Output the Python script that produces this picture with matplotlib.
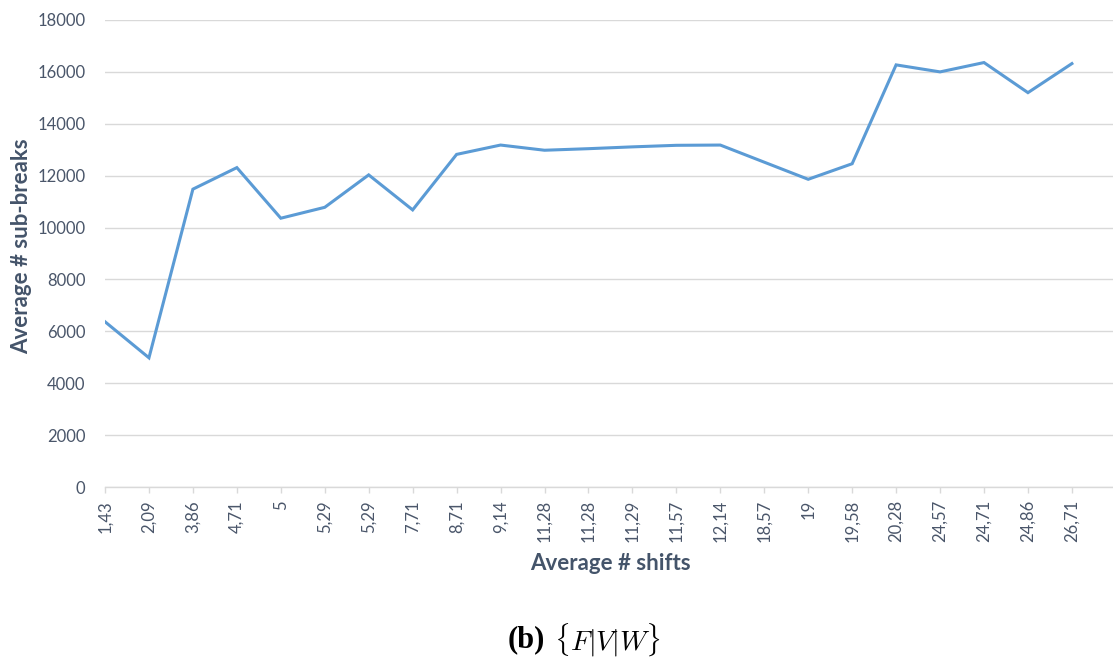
import matplotlib
matplotlib.use("Agg")
import matplotlib.pyplot as plt

categories = ["1,43", "2,09", "3,86", "4,71", "5", "5,29", "5,29", "7,71", "8,71",
              "9,14", "11,28", "11,28", "11,29", "11,57", "12,14", "18,57", "19",
              "19,58", "20,28", "24,57", "24,71", "24,86", "26,71"]
values = [6370, 4980, 11480, 12310, 10360, 10780, 12030, 10680, 12820,
          13180, 12980, 13040, 13110, 13170, 13180, 12520, 11860,
          12460, 16270, 16000, 16360, 15200, 16320]
yticks = [0, 2000, 4000, 6000, 8000, 10000, 12000, 14000, 16000, 18000]

tick_color = "#4a566a"
title_color = "#44546A"
grid_color = "#d9d9d9"
line_color = "#5B9BD5"

plt.rcParams['font.family'] = ['Lato', 'DejaVu Sans']
plt.rcParams['mathtext.fontset'] = 'cm'

fig = plt.figure(figsize=(11.13, 6.57), dpi=100)
ax = fig.add_axes([105/1113, 170/657, 1008/1113, 467/657])

x = list(range(len(categories)))
ax.plot(x, values, color=line_color, linewidth=2.2, solid_joinstyle='miter')

ax.set_xlim(0, 1008/43.95)
ax.set_ylim(0, 18000)
ax.set_yticks(yticks)
ax.set_yticklabels([str(v) for v in yticks])
ax.set_xticks(x)
ax.set_xticklabels(categories, rotation=90)

ax.grid(axis='y', color=grid_color, linewidth=1.0)
ax.set_axisbelow(True)
for s in ['top', 'right', 'left']:
    ax.spines[s].set_visible(False)
ax.spines['bottom'].set_color(grid_color)
ax.spines['bottom'].set_linewidth(1.0)

ax.tick_params(axis='y', length=0, pad=14, labelsize=12, labelcolor=tick_color)
ax.tick_params(axis='x', length=4.5, width=1.0, color=grid_color, pad=5,
               labelsize=12, labelcolor=tick_color)

fig.text(610/1113, 1 - 563/657, "Average # shifts", ha='center', va='center',
         fontsize=16, fontweight='bold', color=title_color)
fig.text(22/1113, 1 - 246/657, "Average # sub-breaks", ha='center', va='center',
         rotation=90, fontsize=16, fontweight='bold', color=title_color)

fig.text(526/1113, 1 - 640/657, "(b)", ha='center', va='center',
         fontsize=22, fontweight='bold', family='Liberation Serif', color='black')
fig.text(607/1113, 1 - 640/657, r"$\{F|V|W\}$", ha='center', va='center',
         fontsize=20, color='black')

fig.savefig("out.png", dpi=100)
